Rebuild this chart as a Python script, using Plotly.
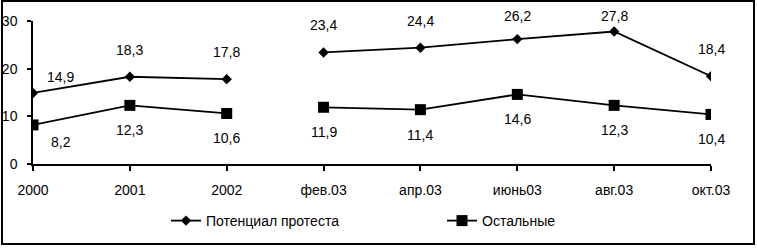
import plotly.graph_objects as go

categories = ["2000", "2001", "2002", "фев.03", "апр.03", "июнь03", "авг.03", "окт.03"]
protest = [14.9, 18.3, 17.8, 23.4, 24.4, 26.2, 27.8, 18.4]
others = [8.2, 12.3, 10.6, 11.9, 11.4, 14.6, 12.3, 10.4]
y_ticks = [0, 10, 20, 30]
gap_after = 2  # line break between "2002" and "фев.03"

W, H = 757, 248
ML, MR, MT, MB = 33, 46, 21, 84
plot_h = H - MT - MB
y_max = 30
px_per_unit = plot_h / y_max

def split_series(vals):
    xs, ys = [], []
    for i, v in enumerate(vals):
        xs.append(i)
        ys.append(v)
        if i == gap_after:
            xs.append(None)
            ys.append(None)
    return xs, ys

FONT = "Liberation Sans, Arial, sans-serif"
fig = go.Figure()

xp, yp = split_series(protest)
fig.add_trace(go.Scatter(
    x=xp, y=yp, mode="lines+markers", name="Потенциал протеста",
    line=dict(color="black", width=1.8),
    marker=dict(symbol="diamond", size=8, color="black"),
    connectgaps=False,
))
xo, yo = split_series(others)
fig.add_trace(go.Scatter(
    x=xo, y=yo, mode="lines+markers", name="Остальные",
    line=dict(color="black", width=1.8),
    marker=dict(symbol="square", size=11, color="black"),
    connectgaps=False,
))

def fmt(v):
    return f"{v:.1f}".replace(".", ",")

annotations = []
for i, v in enumerate(protest):
    point_px = MT + (y_max - v) * px_per_unit
    if i == 0:
        xs, ys = 27, 16
    else:
        xs = 0
        ys = min(27, point_px - 16)
    annotations.append(dict(x=i, y=v, text=fmt(v), showarrow=False,
                            xshift=xs, yshift=ys,
                            font=dict(family=FONT, size=14, color="black")))
for i, v in enumerate(others):
    if i == 0:
        xs, ys = 28, -17
    else:
        xs, ys = 0, -25
    annotations.append(dict(x=i, y=v, text=fmt(v), showarrow=False,
                            xshift=xs, yshift=ys,
                            font=dict(family=FONT, size=14, color="black")))

plot_w = W - ML - MR
def px_to_paper_x(px):
    return (px - ML) / plot_w
def px_to_paper_y(py):
    return (H - MB - py) / plot_h

fig.add_shape(type="rect", xref="paper", yref="paper",
              x0=px_to_paper_x(2), x1=px_to_paper_x(754),
              y0=px_to_paper_y(244), y1=px_to_paper_y(1),
              line=dict(color="black", width=2), fillcolor="rgba(0,0,0,0)",
              layer="below")

fig.update_layout(
    width=W, height=H,
    margin=dict(l=ML, r=MR, t=MT, b=MB, pad=0, autoexpand=False),
    paper_bgcolor="white", plot_bgcolor="white",
    font=dict(family=FONT, size=14, color="black"),
    showlegend=True,
    legend=dict(orientation="h", x=px_to_paper_x(166), xanchor="left",
                y=px_to_paper_y(221), yanchor="middle",
                entrywidth=231, entrywidthmode="pixels",
                font=dict(family=FONT, size=14, color="black"),
                bgcolor="rgba(0,0,0,0)", itemclick=False),
    annotations=annotations,
    xaxis=dict(
        range=[0, len(categories) - 1], automargin=False,
        tickmode="array", tickvals=list(range(len(categories))), ticktext=categories,
        showline=True, linecolor="black", linewidth=1.5,
        ticks="outside", ticklen=5, tickcolor="black", tickwidth=1.5,
        showgrid=False, zeroline=False, ticklabelstandoff=7,
        tickfont=dict(family=FONT, size=14, color="black"),
    ),
    yaxis=dict(
        range=[0, y_max], automargin=False,
        tickmode="array", tickvals=y_ticks,
        showline=True, linecolor="black", linewidth=1.5,
        ticks="outside", ticklen=4, tickcolor="black", tickwidth=1.5,
        showgrid=False, zeroline=False, ticklabelstandoff=7,
        tickfont=dict(family=FONT, size=14, color="black"),
    ),
)

fig.write_html("out.html",
               config={"displayModeBar": False},
               post_script="document.body.style.margin='0';document.body.style.overflow='hidden';")
